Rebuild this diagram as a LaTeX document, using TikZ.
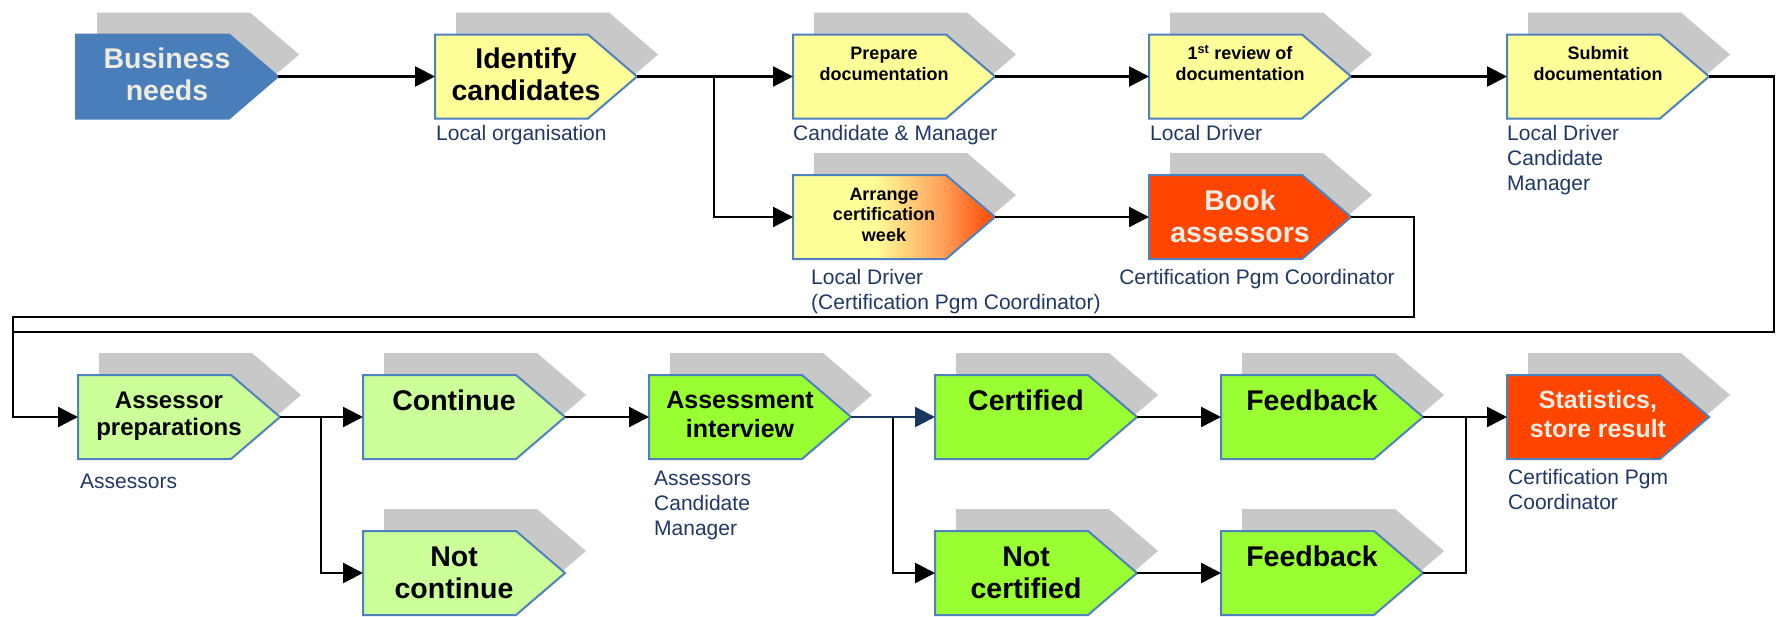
\documentclass[tikz,border=0pt]{standalone}
\usepackage{fontspec}
\setmainfont{Liberation Sans}
\usetikzlibrary{arrows.meta}
\definecolor{shadowgray}{RGB}{200,200,200}
\definecolor{bordblue}{RGB}{79,129,189}
\definecolor{cblue}{RGB}{74,126,187}
\definecolor{cyellow}{RGB}{255,255,153}
\definecolor{clgreen}{RGB}{204,255,153}
\definecolor{cgreen}{RGB}{153,255,51}
\definecolor{cred}{RGB}{255,69,0}
\definecolor{corange}{RGB}{255,160,90}
\definecolor{lighttext}{RGB}{238,236,225}
\definecolor{rolecol}{RGB}{31,56,100}
\definecolor{navy}{RGB}{23,55,94}
\pgfdeclarehorizontalshading{arrangeshade}{100bp}{color(0bp)=(cyellow); color(25bp)=(cyellow); color(45bp)=(cyellow); color(62bp)=(corange); color(75bp)=(cred); color(100bp)=(cred)}
\newcommand\hugetop{\rule{0pt}{22pt}}
\newcommand\bigtop{\rule{0pt}{20pt}}
\newcommand\smalltop{\rule{0pt}{17pt}}
\newcommand\roletop{\rule{0pt}{17pt}}
\tikzset{
  frame/.style={rectangle, minimum width=202pt, minimum height=84pt, inner sep=0pt, outer sep=0pt, draw=none},
  boxline/.style={draw=bordblue, line width=2pt, line join=miter},
  fyellow/.style={fill=cyellow},
  flgreen/.style={fill=clgreen},
  fgreen/.style={fill=cgreen},
  fred/.style={fill=cred},
  fblue/.style={fill=cblue, draw=cblue},
  farrange/.style={shading=arrangeshade},
  hugetext/.style={font=\fontsize{28.5}{32}\selectfont\bfseries, align=center, inner sep=0pt, anchor=north},
  bigtext/.style={font=\fontsize{25}{29}\selectfont\bfseries, align=center, inner sep=0pt, anchor=north},
  smalltext/.style={font=\fontsize{18}{20.5}\selectfont\bfseries, align=center, inner sep=0pt, anchor=north},
  role/.style={font=\fontsize{21}{25}\selectfont, text=rolecol, align=left, inner sep=0pt, anchor=north west},
  conn/.style={line width=2.5pt, draw=black},
  arr/.style={conn, -{Triangle[length=20pt,width=20pt]}},
}
\newcommand\chevbox[4]{%
  \node[frame] (#1) at (#2,#3) {};
  \fill[shadowgray] ([shift={(21pt,22pt)}]#1.north west) -- ([shift={(-28pt,22pt)}]#1.north east) -- ([shift={(21pt,22pt)}]#1.east) -- ([shift={(-28pt,22pt)}]#1.south east) -- ([shift={(21pt,22pt)}]#1.south west) -- cycle;
  \path[boxline,#4] (#1.north west) -- ([xshift=-49pt]#1.north east) -- (#1.east) -- ([xshift=-49pt]#1.south east) -- (#1.south west) -- cycle;
}
\begin{document}
\begin{tikzpicture}[x=1pt,y=-1pt]
\useasboundingbox[fill=white] (0,0) rectangle (1777,616);
% row 1
\chevbox{bn}{177}{76.5}{fblue}
\chevbox{id}{536}{76.5}{fyellow}
\chevbox{pd}{894}{76.5}{fyellow}
\chevbox{rv}{1250}{76.5}{fyellow}
\chevbox{sd}{1608}{76.5}{fyellow}
% row 2
\chevbox{ar}{894}{217}{farrange}
\chevbox{bk}{1250}{217}{fred}
% row 3
\chevbox{ap}{179}{417}{flgreen}
\chevbox{co}{464}{417}{flgreen}
\chevbox{as}{750}{417}{fgreen}
\chevbox{ce}{1036}{417}{fgreen}
\chevbox{fa}{1322}{417}{fgreen}
\chevbox{st}{1608}{417}{fred}
% row 4
\chevbox{nc}{464}{573}{flgreen}
\chevbox{nce}{1036}{573}{fgreen}
\chevbox{fb}{1322}{573}{fgreen}
% box texts
\node[hugetext, text=lighttext] (bn-t) at ([xshift=-10pt,yshift=-11.5pt]bn.north) {\hugetop Business\\needs};
\node[hugetext] (id-t) at ([xshift=-10pt,yshift=-11.5pt]id.north) {\hugetop Identify\\candidates};
\node[smalltext] (pd-t) at ([xshift=-10pt,yshift=-8pt]pd.north) {\smalltop Prepare\\documentation};
\node[smalltext] (rv-t) at ([xshift=-10pt,yshift=-8pt]rv.north) {\smalltop 1\textsuperscript{st} review of\\documentation};
\node[smalltext] (sd-t) at ([xshift=-10pt,yshift=-8pt]sd.north) {\smalltop Submit\\documentation};
\node[smalltext] (ar-t) at ([xshift=-10pt,yshift=-8pt]ar.north) {\smalltop Arrange\\certification\\week};
\node[hugetext, text=lighttext] (bk-t) at ([xshift=-10pt,yshift=-13pt]bk.north) {\hugetop Book\\assessors};
\node[bigtext, font=\fontsize{24}{27}\selectfont\bfseries] (ap-t) at ([xshift=-10pt,yshift=-13.5pt]ap.north) {\bigtop Assessor\\preparations};
\node[hugetext] (co-t) at ([xshift=-10pt,yshift=-13pt]co.north) {\hugetop Continue};
\node[bigtext] (as-t) at ([xshift=-10pt,yshift=-13pt]as.north) {\bigtop Assessment\\interview};
\node[hugetext] (ce-t) at ([xshift=-10pt,yshift=-13pt]ce.north) {\hugetop Certified};
\node[hugetext] (fa-t) at ([xshift=-10pt,yshift=-13pt]fa.north) {\hugetop Feedback};
\node[bigtext, text=lighttext] (st-t) at ([xshift=-10pt,yshift=-13pt]st.north) {\bigtop Statistics,\\store result};
\node[hugetext] (nc-t) at ([xshift=-10pt,yshift=-13pt]nc.north) {\hugetop Not\\continue};
\node[hugetext] (nce-t) at ([xshift=-10pt,yshift=-13pt]nce.north) {\hugetop Not\\certified};
\node[hugetext] (fb-t) at ([xshift=-10pt,yshift=-13pt]fb.north) {\hugetop Feedback};
% role labels
\node[role] (id-r) at (436,123.5) {\roletop Local organisation};
\node[role] (pd-r) at (793,123.5) {\roletop Candidate \& Manager};
\node[role] (rv-r) at (1150,123.5) {\roletop Local Driver};
\node[role] (sd-r) at (1507,123.5) {\roletop Local Driver\\Candidate\\Manager};
\node[role] (ar-r) at (811,267.5) {\roletop Local Driver\\(Certification Pgm Coordinator)};
\node[role, anchor=north] (bk-r) at (1257,267.5) {\roletop Certification Pgm Coordinator};
\node[role] (ap-r) at (80,471) {\roletop Assessors};
\node[role] (as-r) at (654,468.5) {\roletop Assessors\\Candidate\\Manager};
\node[role] (st-r) at (1508,467.5) {\roletop Certification Pgm\\Coordinator};
% connector coordinates
\coordinate (b1) at (714,76.5);
\coordinate (cR) at (1774,332);
\coordinate (cL) at (13,332);
\coordinate (dR) at (1414,317);
\coordinate (dL) at (13,317);
\coordinate (b2) at (321,417);
\coordinate (b3) at (893,417);
\coordinate (b4) at (1466,417);
% connectors
\draw[arr] (bn.east) -- (id.west);
\draw[arr] (id.east) -- (pd.west);
\draw[arr] (b1) |- (ar.west);
\draw[arr] (pd.east) -- (rv.west);
\draw[arr] (rv.east) -- (sd.west);
\draw[arr] (ar.east) -- (bk.west);
\draw[conn] (bk.east) -| (dR) -- (dL) -- (cL);
\draw[arr] (sd.east) -| (cR) -- (cL) |- (ap.west);
\draw[arr] (ap.east) -- (co.west);
\draw[arr] (b2) |- (nc.west);
\draw[arr] (co.east) -- (as.west);
\draw[arr] (b3) |- (nce.west);
\draw[arr, draw=navy, fill=navy] (as.east) -- (ce.west);
\draw[arr] (ce.east) -- (fa.west);
\draw[arr] (nce.east) -- (fb.west);
\draw[arr] (fa.east) -- (st.west);
\draw[conn] (fb.east) -| (b4);
\end{tikzpicture}
\end{document}
